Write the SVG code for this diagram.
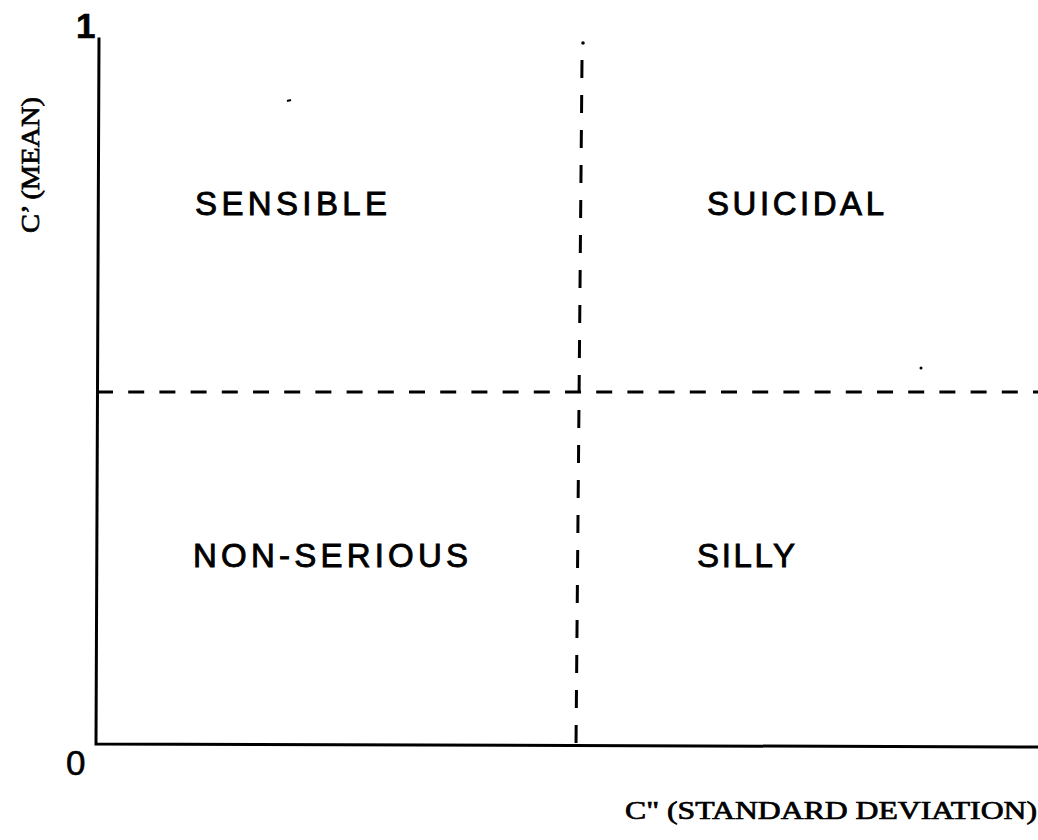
<svg xmlns="http://www.w3.org/2000/svg" width="1038" height="840" viewBox="0 0 1038 840">
  <style>
    .axis { stroke: #000; stroke-width: 3; fill: none; stroke-linecap: square; }
    .divider { stroke: #000; stroke-width: 3; fill: none; }
    .region { font-family: "Liberation Sans", Arial, sans-serif; font-size: 33px; fill: #000; stroke: #000; stroke-width: 0.9px; }
    .tick { font-family: "Liberation Sans", Arial, sans-serif; font-size: 35px; fill: #000; stroke: #000; stroke-width: 0.6px; }
    .axislabel { font-family: "Liberation Serif", "Times New Roman", serif; font-size: 25px; fill: #000; stroke: #000; stroke-width: 0.7px; }
  </style>
  <rect width="1038" height="840" fill="#fff"/>

  <!-- axes and quadrant dividers -->
  <g id="connectors">
    <path class="axis" d="M99,39 L96,744 L1038,747"/>
    <line class="divider" x1="97" y1="392" x2="1038" y2="392" stroke-dasharray="16 15.2"/>
    <circle cx="583" cy="43" r="1.8" fill="#000"/>
    <line class="divider" x1="582" y1="60" x2="576" y2="745" stroke-dasharray="18 17"/>
    <!-- small specks -->
    <line x1="287" y1="101" x2="291" y2="100" stroke="#000" stroke-width="2"/>
    <circle cx="921" cy="368" r="1.5" fill="#000"/>
  </g>

  <!-- axis end values -->
  <g id="tick-1"><text class="tick" x="76" y="38" font-size="30" font-weight="bold">1</text></g>
  <g id="tick-0"><text class="tick" x="66" y="775">0</text></g>

  <!-- axis titles -->
  <g id="y-title">
    <text class="axislabel" transform="translate(39,165) rotate(-90)" text-anchor="middle" textLength="136" lengthAdjust="spacingAndGlyphs">C’ (MEAN)</text>
  </g>
  <g id="x-title">
    <text class="axislabel" x="625" y="819" textLength="412" lengthAdjust="spacingAndGlyphs">C" (STANDARD DEVIATION)</text>
  </g>

  <!-- quadrant names -->
  <g id="sensible"><text class="region" x="195" y="215" textLength="192" lengthAdjust="spacing">SENSIBLE</text></g>
  <g id="suicidal"><text class="region" x="707" y="215" textLength="177" lengthAdjust="spacing">SUICIDAL</text></g>
  <g id="non-serious"><text class="region" x="193" y="567" textLength="275" lengthAdjust="spacing">NON-SERIOUS</text></g>
  <g id="silly"><text class="region" x="697" y="567" textLength="98" lengthAdjust="spacing">SILLY</text></g>
</svg>
